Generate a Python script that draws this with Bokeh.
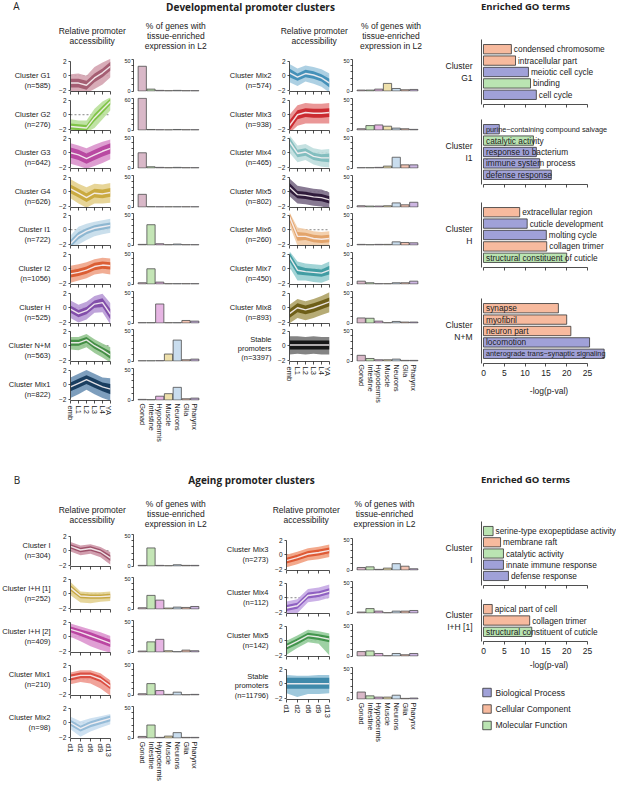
from bokeh.plotting import figure
from bokeh.layouts import row, column
from bokeh.models import Range1d, FactorRange, FixedTicker, Span, Spacer
from bokeh.core.properties import value
from bokeh.embed import file_html
from bokeh.resources import INLINE

SANS = "Liberation Sans"
HEADF = "Open Sans"
INK = "#222222"

# ---------------- data ----------------
TISSUES = ["Gonad", "Intestine", "Hypodermis", "Muscle", "Neurons", "Glia", "Pharynx"]
TISSUE_COLORS = ["#d9b8c8", "#c4e5b6", "#e6b5e3", "#eee0ab", "#c9ddee", "#f3c3b2", "#cdb6e2"]
DEV_STAGES = ["emb", "L1", "L2", "L3", "L4", "YA"]
AGE_STAGES = ["d1", "d2", "d6", "d9", "d13"]

# Developmental, left column
devL_labels = [["Cluster G1", "(n=585)"], ["Cluster G2", "(n=276)"], ["Cluster G3", "(n=642)"],
               ["Cluster G4", "(n=626)"], ["Cluster I1", "(n=722)"], ["Cluster I2", "(n=1056)"],
               ["Cluster H", "(n=525)"], ["Cluster N+M", "(n=563)"], ["Cluster Mix1", "(n=822)"]]
devL_color = ["#a25a6f", "#7cc242", "#b6449f", "#c8a83c", "#8ab4d0", "#d95a2e", "#7e4aa8", "#3f8a40", "#15395b"]
devL_light = ["#d4a3b0", "#b9e09a", "#da94cc", "#e4d08d", "#c4dbea", "#f0a488", "#b89ad6", "#93c58f", "#6f93b6"]
devL_mean = [[-1.0, -1.0, -1.3, -0.3, 0.4, 1.3], [-1.6, -1.7, -1.8, -0.4, 0.7, 1.8],
             [0.0, -0.3, -0.8, -0.3, 0.2, 0.6], [0.4, -0.2, -0.8, -0.2, -0.3, -0.1],
             [-1.9, -0.8, -0.2, 0.2, 0.4, 0.6], [-0.7, -0.5, -0.2, 0.3, 0.5, 0.4],
             [-0.2, -0.8, -0.4, 0.5, 0.7, -0.9], [0.4, 0.4, 0.8, 0.0, -0.6, -1.3],
             [-0.3, 0.2, 0.7, 0.2, -0.3, -0.6]]
devL_in_lo = [[-1.6, -1.6, -1.9, -0.9, -0.2, 0.7], [-2.0, -2.1, -2.2, -0.9, 0.2, 1.4],
              [-0.7, -1.0, -1.5, -1.0, -0.5, -0.1], [-0.2, -0.8, -1.4, -0.8, -0.9, -0.7],
              [-2.4, -1.3, -0.6, -0.2, 0.0, 0.2], [-1.2, -1.0, -0.7, -0.2, 0.0, -0.1],
              [-0.7, -1.3, -0.9, 0.0, 0.1, -1.6], [0.0, 0.0, 0.4, -0.4, -1.0, -1.8],
              [-0.9, -0.4, 0.1, -0.4, -0.9, -1.3]]
devL_in_hi = [[-0.4, -0.4, -0.7, 0.3, 1.0, 1.9], [-1.2, -1.3, -1.4, 0.1, 1.2, 2.2],
              [0.7, 0.4, -0.1, 0.4, 0.9, 1.3], [1.0, 0.4, -0.2, 0.4, 0.3, 0.5],
              [-1.4, -0.3, 0.2, 0.6, 0.8, 1.0], [-0.2, 0.0, 0.3, 0.8, 1.0, 0.9],
              [0.3, -0.3, 0.1, 1.0, 1.3, -0.2], [0.8, 0.8, 1.2, 0.4, -0.2, -0.8],
              [0.3, 0.8, 1.3, 0.8, 0.3, 0.1]]
devL_out_lo = [[-2.3, -2.3, -2.4, -1.8, -1.2, -0.2], [-2.4, -2.4, -2.4, -1.8, -0.6, 0.6],
               [-1.5, -1.8, -2.2, -1.8, -1.4, -0.9], [-0.9, -1.6, -2.2, -1.6, -1.6, -1.5],
               [-2.5, -2.0, -1.4, -0.9, -0.6, -0.4], [-1.9, -1.6, -1.3, -0.8, -0.6, -0.8],
               [-1.4, -2.0, -1.6, -0.7, -0.6, -2.3], [-0.5, -0.6, -0.2, -1.0, -1.6, -2.3],
               [-1.8, -1.3, -0.7, -1.3, -1.8, -2.2]]
devL_out_hi = [[0.2, 0.3, 0.0, 1.2, 1.8, 2.3], [-0.6, -0.8, -0.8, 0.8, 1.8, 2.4],
               [1.3, 1.0, 0.6, 1.1, 1.5, 1.8], [1.7, 1.1, 0.6, 1.1, 1.0, 1.2],
               [-0.8, 0.4, 0.8, 1.1, 1.3, 1.5], [0.4, 0.6, 0.9, 1.3, 1.5, 1.4],
               [1.0, 0.4, 0.8, 1.6, 1.9, 0.6], [1.2, 1.2, 1.6, 0.9, 0.3, -0.2],
               [1.0, 1.5, 2.0, 1.5, 1.0, 0.9]]
devL_pct = [[39, 3, 1, 0.5, 1, 0.5, 0.5], [60, 1, 0.5, 0.3, 1, 0.5, 0.5],
            [24, 2, 1, 0.5, 1, 0.5, 0.5], [20, 0.5, 0.3, 0.3, 0.3, 0.3, 0.3],
            [1, 32, 2, 0.5, 1.5, 0.5, 0.5], [2, 24, 3, 0.5, 0.5, 0.5, 0.5],
            [0.5, 0.5, 30, 0.5, 0.5, 4, 3], [0.3, 0.3, 0.5, 11, 33, 2, 3],
            [1, 0.5, 6, 10, 20, 2, 3]]
devL_pct_max = [50, 60, 50, 50, 50, 50, 50, 50, 50]

# Developmental, middle column
devM_labels = [["Cluster Mix2", "(n=574)"], ["Cluster Mix3", "(n=938)"], ["Cluster Mix4", "(n=465)"],
               ["Cluster Mix5", "(n=802)"], ["Cluster Mix6", "(n=260)"], ["Cluster Mix7", "(n=450)"],
               ["Cluster Mix8", "(n=893)"], ["Stable", "promoters", "(n=3397)"]]
devM_color = ["#3f8db6", "#c9252b", "#80bcbd", "#2b1637", "#e2a167", "#3d9aa0", "#6a5b13", "#111111"]
devM_light = ["#a4cbe0", "#e88c8c", "#bfdede", "#7b6b87", "#f2cba5", "#98cfd1", "#aea266", "#777777"]
devM_mean = [[0.4, -0.2, 0.3, 0.1, -0.3, -1.0], [-1.5, 0.0, 0.3, 0.2, 0.2, 0.3],
             [1.5, -0.1, 0.1, -0.5, -0.7, -0.7], [0.6, -0.4, -0.5, -0.7, -0.8, -1.1],
             [1.8, -0.9, -0.9, -1.2, -1.3, -1.2], [1.6, -0.2, -0.4, -0.5, -0.6, -0.2],
             [-0.8, 0.0, -0.3, 0.0, 0.4, 0.8], [0.1, 0.1, 0.1, 0.1, 0.1, 0.1]]
devM_in_lo = [[-0.2, -0.7, -0.2, -0.4, -0.8, -1.6], [-2.2, -0.6, -0.3, -0.4, -0.4, -0.3],
              [0.9, -0.6, -0.4, -1.0, -1.2, -1.3], [0.0, -0.9, -1.0, -1.2, -1.3, -1.6],
              [1.2, -1.5, -1.4, -1.7, -1.8, -1.7], [1.0, -0.8, -0.9, -1.0, -1.1, -0.8],
              [-1.4, -0.6, -0.9, -0.6, -0.2, 0.2], [-0.5, -0.5, -0.5, -0.5, -0.5, -0.5]]
devM_in_hi = [[1.0, 0.3, 0.8, 0.6, 0.2, -0.4], [-0.8, 0.6, 0.9, 0.8, 0.8, 0.9],
              [2.1, 0.4, 0.6, 0.0, -0.2, -0.1], [1.2, 0.1, 0.0, -0.2, -0.3, -0.6],
              [2.3, -0.3, -0.4, -0.7, -0.8, -0.7], [2.2, 0.4, 0.1, 0.0, -0.1, 0.4],
              [-0.2, 0.6, 0.3, 0.6, 1.0, 1.4], [0.7, 0.7, 0.7, 0.7, 0.7, 0.7]]
devM_out_lo = [[-0.9, -1.4, -0.8, -1.1, -1.5, -2.3], [-2.5, -1.5, -1.2, -1.2, -1.2, -1.2],
               [0.0, -1.3, -1.0, -1.6, -1.9, -2.0], [-0.6, -1.6, -1.7, -1.9, -2.0, -2.3],
               [0.6, -2.2, -2.1, -2.3, -2.4, -2.3], [0.2, -1.6, -1.6, -1.8, -1.9, -1.5],
               [-2.1, -1.4, -1.7, -1.4, -1.0, -0.6], [-1.2, -1.1, -1.2, -1.1, -1.2, -1.2]]
devM_out_hi = [[1.6, 1.0, 1.4, 1.2, 0.9, 0.3], [0.0, 1.3, 1.6, 1.5, 1.5, 1.6],
               [2.4, 1.0, 1.2, 0.6, 0.4, 0.5], [1.8, 0.8, 0.6, 0.4, 0.3, -0.1],
               [2.4, 0.3, 0.1, -0.2, -0.3, -0.2], [2.4, 1.0, 0.7, 0.6, 0.5, 1.0],
               [0.4, 1.2, 0.9, 1.2, 1.6, 2.1], [1.3, 1.3, 1.2, 1.3, 1.2, 1.2]]
devM_pct = [[1.5, 1.5, 3, 12, 4, 2, 2.5], [2, 7, 8, 6, 3, 2, 1],
            [0.5, 0.5, 1, 3, 17, 5, 5], [2, 1.5, 1.5, 2, 6.5, 3.5, 7.5],
            [1, 0.5, 1, 1, 5, 4, 3.5], [4.5, 2, 0.5, 0.5, 2, 2, 4.5],
            [8, 7.5, 3, 0.5, 2.5, 1.5, 1.5], [9, 4, 2, 2, 3, 1, 1]]
devM_pct_max = [50, 50, 50, 50, 50, 50, 50, 50]

# Ageing, left column
ageL_labels = [["Cluster I", "(n=304)"], ["Cluster I+H [1]", "(n=252)"], ["Cluster I+H [2]", "(n=409)"],
               ["Cluster Mix1", "(n=210)"], ["Cluster Mix2", "(n=98)"]]
ageL_color = ["#9a4d66", "#c4a53f", "#b8419f", "#d94a3d", "#92b9d6"]
ageL_light = ["#cc93a5", "#e3d190", "#dd95cf", "#f0998f", "#c9def0"]
ageL_mean = [[0.6, 0.1, 0.3, -0.1, -1.0], [0.8, -0.3, -0.4, -0.4, -0.3],
             [1.0, 0.6, 0.1, -0.4, -0.9], [0.3, 0.6, 0.6, 0.1, -0.9],
             [0.0, -0.8, -0.2, 0.2, 0.6]]
ageL_in_lo = [[0.3, -0.2, 0.0, -0.4, -1.4], [0.4, -0.6, -0.7, -0.7, -0.6],
              [0.6, 0.1, -0.4, -0.9, -1.4], [-0.1, 0.2, 0.2, -0.3, -1.3],
              [-0.4, -1.2, -0.6, -0.2, 0.2]]
ageL_in_hi = [[0.9, 0.4, 0.6, 0.2, -0.6], [1.2, 0.0, -0.1, -0.1, 0.0],
              [1.4, 1.0, 0.6, 0.1, -0.4], [0.7, 1.0, 1.0, 0.5, -0.5],
              [0.4, -0.4, 0.2, 0.6, 1.0]]
ageL_out_lo = [[-0.1, -0.6, -0.4, -0.9, -1.9], [-0.2, -1.2, -1.3, -1.1, -1.0],
               [0.0, -0.6, -1.3, -1.8, -2.2], [-0.6, -0.3, -0.5, -1.2, -2.2],
               [-0.9, -1.9, -1.2, -0.7, -0.2]]
ageL_out_hi = [[1.2, 0.7, 0.9, 0.5, -0.2], [1.6, 0.3, 0.2, 0.2, 0.3],
               [1.8, 1.4, 1.0, 0.6, 0.1], [1.0, 1.3, 1.3, 0.9, -0.1],
               [0.8, 0.2, 0.6, 0.9, 1.2]]
ageL_pct = [[1, 28.5, 1, 0.5, 2, 1, 1], [2, 21.5, 14, 1.5, 3, 2.5, 4],
            [1.5, 16, 20, 2, 0.5, 3, 2], [2, 18, 7, 1, 4.5, 0.5, 1],
            [2.5, 20.5, 1, 3, 8.5, 1, 1]]
ageL_pct_max = [50, 50, 50, 50, 50]

# Ageing, middle column
ageM_labels = [["Cluster Mix3", "(n=273)"], ["Cluster Mix4", "(n=112)"], ["Cluster Mix5", "(n=142)"],
               ["Stable", "promoters", "(n=11796)"]]
ageM_color = ["#dd5530", "#8b5cc0", "#3d9148", "#3b87a8"]
ageM_light = ["#f2a080", "#c5a8e4", "#93cc9a", "#93c2d8"]
ageM_mean = [[-0.8, -0.4, 0.1, 0.3, 0.6], [-1.4, -1.1, 0.3, 0.5, 0.9],
             [-0.8, -0.1, 0.7, 0.5, 0.2], [0.0, 0.0, 0.0, 0.0, 0.0]]
ageM_in_lo = [[-1.2, -0.8, -0.3, -0.1, 0.2], [-1.8, -1.5, -0.1, 0.1, 0.5],
              [-1.2, -0.5, 0.3, 0.1, -0.2], [-0.7, -0.7, -0.7, -0.7, -0.7]]
ageM_in_hi = [[-0.4, 0.0, 0.5, 0.7, 1.0], [-1.0, -0.7, 0.7, 0.9, 1.3],
              [-0.4, 0.3, 1.1, 0.9, 0.6], [0.8, 0.8, 0.8, 0.8, 0.8]]
ageM_out_lo = [[-1.7, -1.3, -0.8, -0.6, -0.3], [-2.3, -2.1, -0.6, -0.4, 0.0],
               [-1.9, -1.0, -0.2, -0.4, -2.0], [-1.3, -1.8, -1.4, -1.4, -1.3]]
ageM_out_hi = [[0.0, 0.4, 0.9, 1.1, 1.4], [-0.5, -0.2, 1.2, 1.4, 1.8],
               [0.0, 0.7, 1.5, 1.3, 1.0], [1.2, 1.1, 1.1, 1.2, 1.2]]
ageM_pct = [[4, 5, 1, 3, 10, 6, 2], [1.5, 7, 3, 0.5, 3, 3, 4],
            [7, 8, 4, 0.5, 4, 2, 4], [11, 5, 3, 3, 6, 1, 1.5]]
ageM_pct_max = [50, 50, 50, 50]

# GO terms
GO_CAT_NAMES = ["Biological Process", "Cellular Component", "Molecular Function"]
GO_CAT_COLORS = ["#a0a1d8", "#f7ba9e", "#bae4b2"]
goA_clusters = [["Cluster", "G1"], ["Cluster", "I1"], ["Cluster", "H"], ["Cluster", "N+M"]]
goA_terms = [["condensed chromosome", "intracellular part", "meiotic cell cycle", "binding", "cell cycle"],
             ["purine\u2212containing compound salvage", "catalytic activity", "response to bacterium",
              "immune system process", "defense response"],
             ["extracellular region", "cuticle development", "molting cycle", "collagen trimer",
              "structural constituent of cuticle"],
             ["synapse", "myofibril", "neuron part", "locomotion", "anterograde trans\u2212synaptic signaling"]]
goA_vals = [[6.7, 7.7, 10.8, 11.3, 12.7], [3.8, 12.0, 12.7, 13.5, 16.3],
            [8.7, 10.5, 15.1, 15.2, 20.0], [18.0, 20.0, 21.0, 25.5, 29.0]]
goA_cats = [["Cellular Component", "Cellular Component", "Biological Process", "Molecular Function", "Biological Process"],
            ["Biological Process", "Molecular Function", "Biological Process", "Biological Process", "Biological Process"],
            ["Cellular Component", "Biological Process", "Biological Process", "Cellular Component", "Molecular Function"],
            ["Cellular Component", "Cellular Component", "Cellular Component", "Biological Process", "Biological Process"]]
goA_inside = [[False] * 5, [True] * 5, [False, False, False, False, True], [True] * 5]

goB_clusters = [["Cluster", "I"], ["Cluster", "I+H [1]"]]
goB_terms = [["serine-type exopeptidase activity", "membrane raft", "catalytic activity",
              "innate immune response", "defense response"],
             ["apical part of cell", "collagen trimer", "structural constituent of cuticle"]]
goB_vals = [[2.3, 4.1, 4.8, 4.8, 6.0], [2.1, 11.1, 11.6]]
goB_cats = [["Molecular Function", "Cellular Component", "Molecular Function", "Biological Process", "Biological Process"],
            ["Cellular Component", "Cellular Component", "Molecular Function"]]
goB_inside = [[False] * 5, [False, False, True]]

GO_TICKS = [0, 5, 10, 15, 20, 25]

# ---------------- helpers ----------------
FRAME_H = 33
YLO, YHI = -2.15, 2.35


def base_fig(w, h, xr, yr, lb=0, rb=0, tb=0, bb=0, axes=True):
    kw = {} if axes else dict(x_axis_location=None, y_axis_location=None)
    p = figure(width=w, height=h, x_range=xr, y_range=yr, output_backend="svg",
               toolbar_location=None, min_border_left=lb, min_border_right=rb,
               min_border_top=tb, min_border_bottom=bb, **kw)
    p.outline_line_color = None
    p.xgrid.visible = False
    p.ygrid.visible = False
    return p


def style_axis(ax, size, tick_out, standoff):
    ax.axis_line_color = INK
    ax.axis_line_width = 0.8
    ax.major_tick_line_color = INK
    ax.major_tick_line_width = 0.8
    ax.major_tick_out = tick_out
    ax.major_tick_in = 0
    ax.minor_tick_line_color = None
    ax.major_label_text_font = SANS
    ax.major_label_text_font_size = size
    ax.major_label_text_color = INK
    ax.major_label_standoff = standoff


def hide_labels(ax):
    ax.major_label_text_font_size = "1px"
    ax.major_label_text_color = None
    ax.major_label_standoff = 0


def add_texts(p, items):
    # items: (text, x, y, size, align, baseline, font, style)
    for (t, x, y, size, align, base, font, style) in items:
        p.text(x=[x], y=[y], text=[t], text_font=value(font), text_font_size=size,
               text_align=align, text_baseline=base, text_font_style=style, text_color=INK)


def text_fig(w, h, items):
    p = base_fig(w, h, Range1d(0, w), Range1d(h, 0), axes=False)
    add_texts(p, items)
    return p


def label_fig(w, h, frame_h, bb, items):
    # frame covers only the plotting band of its row neighbours
    p = base_fig(w, h, Range1d(0, w), Range1d(frame_h, 0), bb=bb, axes=False)
    add_texts(p, items)
    return p


def line_fig(w, h, lb, bb, stages, mean, ilo, ihi, olo, ohi, col, light, show_x, xfont):
    xs = list(range(len(stages)))
    p = base_fig(w, h, Range1d(0, len(stages) - 1), Range1d(YLO, YHI), lb=lb, rb=2, tb=0, bb=bb)
    p.add_layout(Span(location=0, dimension="width", line_color="#666666", line_width=0.8,
                      line_dash="2 2", level="underlay"))
    p.varea(x=xs, y1=olo, y2=ohi, fill_color=light, fill_alpha=0.9)
    p.varea(x=xs, y1=ilo, y2=ihi, fill_color=col, fill_alpha=0.95)
    p.line(x=xs, y=mean, line_color="#f8f2f4", line_width=1.4, line_alpha=0.9)
    ya = p.yaxis[0]
    ya.ticker = FixedTicker(ticks=[-2, 0, 2])
    ya.bounds = (-2, 2)
    style_axis(ya, "6.5px", 2, 2)
    xa = p.xaxis[0]
    xa.ticker = FixedTicker(ticks=xs)
    style_axis(xa, xfont, 3, 2)
    if show_x:
        xa.major_label_overrides = {i: s for i, s in enumerate(stages)}
        xa.major_label_orientation = "vertical"
    else:
        hide_labels(xa)
    return p


def bar_fig(w, h, bb, vals, ymax, show_x, xfont):
    xr = FactorRange(factors=TISSUES, range_padding=0.5, range_padding_units="absolute")
    p = base_fig(w, h, xr, Range1d(-ymax * 0.015, ymax * 1.025), lb=21, rb=2, tb=0, bb=bb)
    p.vbar(x=TISSUES, top=vals, bottom=0, width=0.94, fill_color=TISSUE_COLORS,
           line_color="#4d4d4d", line_width=0.8)
    ya = p.yaxis[0]
    ya.ticker = FixedTicker(ticks=list(range(0, ymax + 1, 10)))
    ya.major_label_overrides = {t: "" for t in range(10, ymax, 10)}
    ya.bounds = (0, ymax)
    style_axis(ya, "5.5px", 2, 1)
    xa = p.xaxis[0]
    if show_x:
        style_axis(xa, xfont, 0, 3)
        xa.axis_line_color = None
        xa.major_tick_line_color = None
        xa.major_label_orientation = "vertical"
    else:
        xa.visible = False
    return p


LABEL_Y_A = {2: [17.2, 27.2], 3: [10.5, 19.8, 29.1]}
LABEL_Y_B = {2: [12.2, 22.2], 3: [9.5, 19.2, 28.9]}


def cluster_block(label_w, gap, line_w, line_lb, heights, labels, stages, means, ilos, ihis,
                  olos, ohis, cols, lights, pcts, pmax, label_y, xfont, barfont):
    rows = []
    n = len(labels)
    for i in range(n):
        h = heights[i]
        bb = h - FRAME_H
        last = i == n - 1
        lines = labels[i]
        ys = label_y[len(lines)]
        items = [(t, label_w - gap, ys[k], "7.5px", "right", "middle", SANS, "normal")
                 for k, t in enumerate(lines)]
        lf = label_fig(label_w, h, FRAME_H, bb, items)
        pf = line_fig(line_w, h, line_lb, bb, stages, means[i], ilos[i], ihis[i], olos[i], ohis[i],
                      cols[i], lights[i], last, xfont)
        bf = bar_fig(93, h, bb, pcts[i], pmax[i], last, barfont)
        rows.append(row(lf, pf, bf))
    return column(*rows)


GO_COLOR_OF = dict(zip(GO_CAT_NAMES, GO_CAT_COLORS))
GO_W = 138
GO_X0 = -0.48
GO_X1 = GO_X0 + (GO_W - 3) / 4.16


def go_fig(frame_h, bb, terms, vals, cats, inside, show_x, lab_standoff):
    h = frame_h + bb
    yr = FactorRange(factors=list(reversed(terms)), range_padding=0.35, range_padding_units="absolute")
    p = base_fig(GO_W, h, Range1d(GO_X0, GO_X1), yr, lb=3, rb=0, tb=0, bb=bb)
    p.hbar(y=terms, left=0, right=vals, height=0.82, fill_color=[GO_COLOR_OF[c] for c in cats],
           line_color="#333333", line_width=0.8)
    sizes = ["7.3px" if len(t) > 33 else "8.3px" for t in terms]
    for flag in (True, False):
        idx = [i for i in range(len(terms)) if inside[i] == flag]
        if not idx:
            continue
        p.text(x=[0 if flag else vals[i] for i in idx], y=[terms[i] for i in idx],
               text=[terms[i] for i in idx], text_font_size=[sizes[i] for i in idx],
               x_offset=2.5, text_font=value(SANS), text_baseline="middle",
               text_align="left", text_color=INK)
    xa = p.xaxis[0]
    xa.ticker = FixedTicker(ticks=GO_TICKS)
    xa.bounds = (0, 25)
    style_axis(xa, "8.5px", 3, 3)
    if show_x:
        xa.axis_label = "-log(p-val)"
        xa.axis_label_text_font = SANS
        xa.axis_label_text_font_size = "8.5px"
        xa.axis_label_text_font_style = "normal"
        xa.axis_label_text_color = INK
        xa.axis_label_standoff = lab_standoff
    else:
        hide_labels(xa)
    ya = p.yaxis[0]
    style_axis(ya, "1px", 0, 0)
    ya.major_tick_line_color = None
    ya.major_label_overrides = {t: "" for t in terms}
    ya.major_label_text_color = None
    return p


def go_row(frame_h, bb, clines, terms, vals, cats, inside, show_x, lab_standoff):
    h = frame_h + bb
    cy = frame_h / 2.0
    nl = len(clines)
    items = [(t, 48, cy + (k - (nl - 1) / 2.0) * 12, "8.5px", "right", "middle", SANS, "normal")
             for k, t in enumerate(clines)]
    return row(label_fig(54, h, frame_h, bb, items),
               go_fig(frame_h, bb, terms, vals, cats, inside, show_x, lab_standoff))


def legend_fig(w, h):
    yr = FactorRange(factors=list(reversed(GO_CAT_NAMES)), range_padding=0.29, range_padding_units="absolute")
    p = base_fig(w, h, Range1d(0, w), yr, axes=False)
    p.scatter(x=[62.5] * 3, y=GO_CAT_NAMES, marker="square", size=8.5, fill_color=GO_CAT_COLORS,
              line_color="#333333", line_width=0.8)
    p.text(x=[71] * 3, y=GO_CAT_NAMES, text=GO_CAT_NAMES, text_font=value(SANS), text_font_size="8.5px",
           text_baseline="middle", text_align="left", text_color=INK)
    return p


def heights_for(n, period, total):
    hs = [round((i + 1) * period) - round(i * period) for i in range(n - 1)]
    hs.append(total - sum(hs))
    return hs


# ---------------- layout ----------------
A_TOTAL = 399
hA_left = heights_for(9, 38.6, A_TOTAL)
hA_mid = heights_for(8, 38.6, A_TOTAL)
H1 = "8.5px"
C = ("center", "middle", SANS, "normal")

hdrA = text_fig(424, 58, [
    ("A", 12.7, 5.5, "10px", "left", "middle", HEADF, "normal"),
    ("Developmental promoter clusters", 250, 6, "10px", "center", "middle", HEADF, "bold"),
    ("Relative promoter", 91.7, 30.7, H1) + C, ("accessibility", 91.7, 40.7, H1) + C,
    ("% of genes with", 175.3, 25.7, H1) + C, ("tissue-enriched", 175.3, 35.7, H1) + C,
    ("expression in L2", 175.3, 45.7, H1) + C,
    ("Relative promoter", 313.7, 30.7, H1) + C, ("accessibility", 313.7, 40.7, H1) + C,
    ("% of genes with", 390.5, 25.7, H1) + C, ("tissue-enriched", 390.5, 35.7, H1) + C,
    ("expression in L2", 390.5, 45.7, H1) + C,
])

colAL = cluster_block(56, 6, 56, 14, hA_left, devL_labels, DEV_STAGES, devL_mean, devL_in_lo,
                      devL_in_hi, devL_out_lo, devL_out_hi, devL_color, devL_light, devL_pct,
                      devL_pct_max, LABEL_Y_A, "7.5px", "7.2px")
colAM = cluster_block(70, 4, 56, 14, hA_mid, devM_labels, DEV_STAGES, devM_mean, devM_in_lo,
                      devM_in_hi, devM_out_lo, devM_out_hi, devM_color, devM_light, devM_pct,
                      devM_pct_max, LABEL_Y_A, "7.5px", "7.2px")

hdrB = text_fig(424, 76, [
    ("B", 13.3, 22.3, "10px", "left", "middle", HEADF, "normal"),
    ("Ageing promoter clusters", 251, 22.3, "10px", "center", "middle", HEADF, "bold"),
    ("Relative promoter", 91.7, 52.3, H1) + C, ("accessibility", 91.7, 62, H1) + C,
    ("% of genes with", 175.3, 46.3, H1) + C, ("tissue-enriched", 175.3, 56.3, H1) + C,
    ("expression in L2", 175.3, 66.3, H1) + C,
    ("Relative promoter", 305.7, 52.3, H1) + C, ("accessibility", 305.7, 62, H1) + C,
    ("% of genes with", 384, 46.3, H1) + C, ("tissue-enriched", 384, 56.3, H1) + C,
    ("expression in L2", 384, 66.3, H1) + C,
])

colBL = cluster_block(56, 6, 56, 14, [43, 43, 43, 43, 83], ageL_labels, AGE_STAGES, ageL_mean,
                      ageL_in_lo, ageL_in_hi, ageL_out_lo, ageL_out_hi, ageL_color, ageL_light,
                      ageL_pct, ageL_pct_max, LABEL_Y_B, "8px", "7.4px")
colBM = cluster_block(67, 4, 59, 12, [43, 43, 43, 93], ageM_labels, AGE_STAGES, ageM_mean,
                      ageM_in_lo, ageM_in_hi, ageM_out_lo, ageM_out_hi, ageM_color, ageM_light,
                      ageM_pct, ageM_pct_max, LABEL_Y_B, "8px", "7.4px")

left_part = column(hdrA, row(colAL, colAM), hdrB,
                   row(colBL, column(Spacer(width=219, height=4), colBM)))

GW = 192
go_col = column(
    text_fig(GW, 39, [("Enriched GO terms", 101, 6, "9.5px", "center", "middle", HEADF, "bold")]),
    go_row(65, 5, goA_clusters[0], goA_terms[0], goA_vals[0], goA_cats[0], goA_inside[0], False, 6),
    Spacer(width=GW, height=10),
    go_row(65, 5, goA_clusters[1], goA_terms[1], goA_vals[1], goA_cats[1], goA_inside[1], False, 6),
    Spacer(width=GW, height=13),
    go_row(65, 5, goA_clusters[2], goA_terms[2], goA_vals[2], goA_cats[2], goA_inside[2], False, 6),
    Spacer(width=GW, height=26),
    go_row(65, 38, goA_clusters[3], goA_terms[3], goA_vals[3], goA_cats[3], goA_inside[3], True, 7),
    Spacer(width=GW, height=65),
    text_fig(GW, 26, [("Enriched GO terms", 101, 13, "9.5px", "center", "middle", HEADF, "bold")]),
    Spacer(width=GW, height=29),
    go_row(64, 5, goB_clusters[0], goB_terms[0], goB_vals[0], goB_cats[0], goB_inside[0], False, 3),
    Spacer(width=GW, height=9),
    go_row(42, 31, goB_clusters[1], goB_terms[1], goB_vals[1], goB_cats[1], goB_inside[1], True, 3),
    Spacer(width=GW, height=7),
    legend_fig(GW, 59),
)

p = row(left_part, go_col)
open("out.html", "w").write(file_html(p, INLINE))
